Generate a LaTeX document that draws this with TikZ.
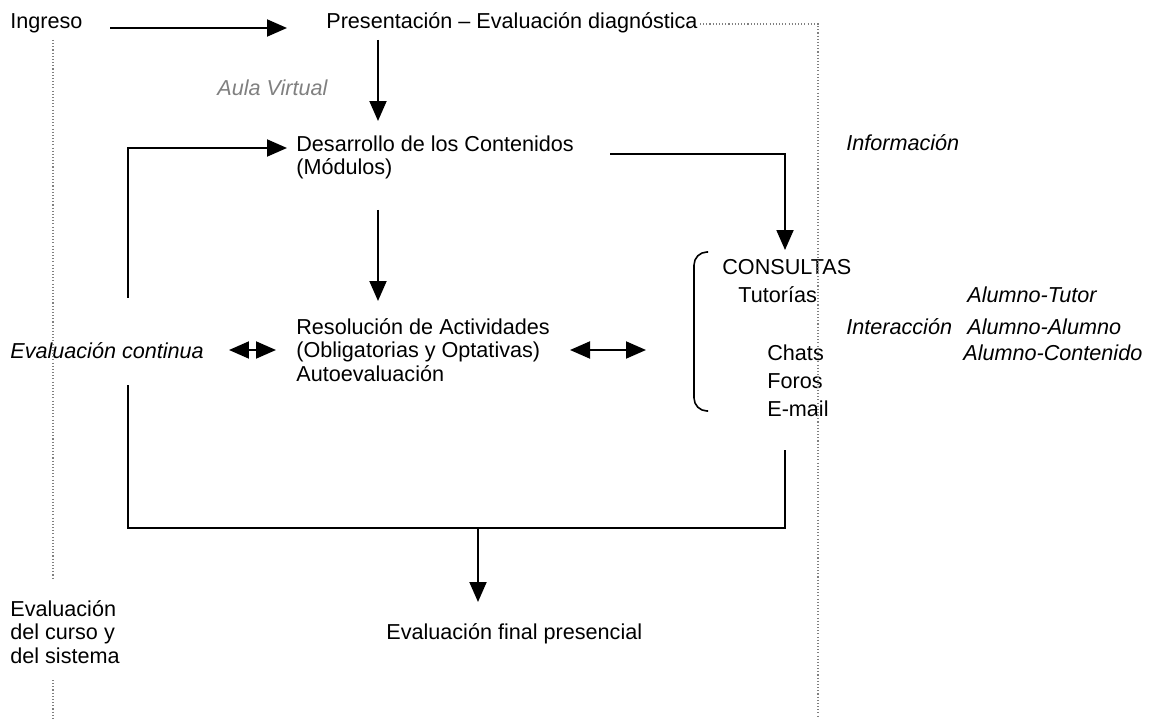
\documentclass[tikz,border=0pt]{standalone}
\usepackage{fontspec}
\setmainfont{Liberation Sans}
\usetikzlibrary{arrows.meta}

\begin{document}
\begin{tikzpicture}[x=0.02cm, y=-0.02cm,
  txt/.style={anchor=base west, inner sep=0pt, align=left,
    font=\fontsize{12.3}{13.3}\selectfont},
  itxt/.style={txt, font=\fontsize{12.3}{13.3}\selectfont\itshape},
  flow/.style={line width=1.1pt, -{Triangle[length=0.4cm, width=0.34cm]}},
  twoway/.style={line width=1.1pt,
    {Triangle[length=0.4cm, width=0.34cm]}-{Triangle[length=0.4cm, width=0.34cm]}},
  link/.style={line width=1.1pt},
  guide/.style={gray, line width=0.7pt, dash pattern=on 0.6pt off 1.2pt}]
  \useasboundingbox (0,0) rectangle (1152,719);

  % texts (multi-line nodes sit on their last line)
  \node[txt] (ingreso) at (10,29) {Ingreso};
  \node[txt] (present) at (326,29) {Presentación – Evaluación diagnóstica};
  \node[itxt, text=gray] (aula) at (217,96) {Aula Virtual};
  \node[txt] (desarrollo) at (296,175) {Desarrollo de los Contenidos\\(Módulos)};
  \node[itxt] (info) at (846,151) {Información};
  \node[txt] (resol) at (296,381)
    {Resolución de Actividades\\(Obligatorias y Optativas)\\Autoevaluación};
  \node[itxt] (evcont) at (10,358) {Evaluación continua};
  \node[txt] (consultas) at (722,275) {CONSULTAS};
  \node[txt] (tutorias) at (738,303) {Tutorías};
  \node[txt] (chats) at (767,360) {Chats};
  \node[txt] (foros) at (767,388) {Foros};
  \node[txt] (email) at (767,416) {E-mail};
  \node[itxt] (interac) at (846,335) {Interacción};
  \node[itxt] (atutor) at (967,303) {Alumno-Tutor};
  \node[itxt] (aalumno) at (967,335) {Alumno-Alumno};
  \node[itxt] (acont) at (963,360) {Alumno-Contenido};
  \node[txt] (final) at (386,639) {Evaluación final presencial};
  \node[txt] (evcurso) at (10,663) {Evaluación\\del curso y\\del sistema};

  % connector ends
  \coordinate (ingA) at (110,28);
  \coordinate (ingB) at (287,28);
  \coordinate (preA) at (378,40);
  \coordinate (preB) at (378,121);
  \coordinate (desA) at (378,210);
  \coordinate (desB) at (378,301);
  \coordinate (loopA) at (128,298);
  \coordinate (loopB) at (128,148);
  \coordinate (loopC) at (287,148);
  \coordinate (infA) at (610,154);
  \coordinate (infB) at (785,154);
  \coordinate (infC) at (785,250);
  \coordinate (evL) at (229,350);
  \coordinate (evR) at (276,350);
  \coordinate (conL) at (570,350);
  \coordinate (conR) at (646,350);
  \coordinate (botA) at (128,385);
  \coordinate (botB) at (128,528);
  \coordinate (botC) at (785,528);
  \coordinate (botD) at (785,450);
  \coordinate (botM) at (478,528);
  \coordinate (botE) at (478,602);

  % arrows
  \draw[flow] (ingA) -- (ingB);
  \draw[flow] (preA) -- (preB);
  \draw[flow] (desA) -- (desB);
  \draw[flow] (loopA) -- (loopB) -- (loopC);
  \draw[flow] (infA) -- (infB) -- (infC);
  \draw[twoway] (evL) -- (evR);
  \draw[twoway] (conL) -- (conR);
  \draw[link] (botA) -- (botB) -- (botC) -- (botD);
  \draw[flow] (botM) -- (botE);

  % bracket round the consultations
  \draw[line width=0.9pt, rounded corners=0.26cm]
    (708,252) -- (694,252) -- (694,411) -- (708,411);

  % dotted guides
  \draw[guide] (700,24) -- (818,24) -- (818,719);
  \draw[guide] (53,40) -- (53,578);
  \draw[guide] (53,680) -- (53,719);
\end{tikzpicture}
\end{document}
